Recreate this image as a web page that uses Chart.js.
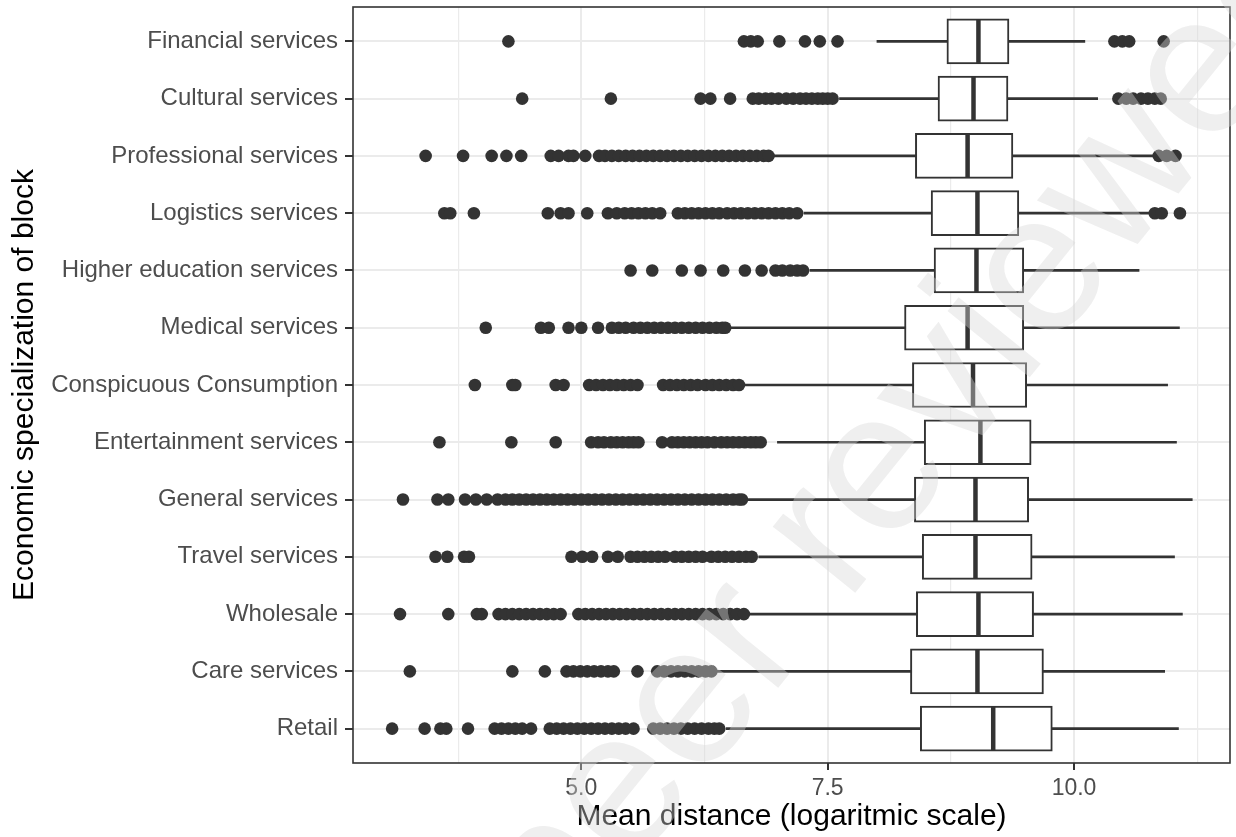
<!DOCTYPE html>
<html>
<head>
<meta charset="utf-8">
<title>Mean distance by economic specialization of block</title>
<script src="https://cdn.jsdelivr.net/npm/chart.js@4.4.1/dist/chart.umd.min.js"></script>
<style>
    html, body { margin: 0; padding: 0; background: #fff; }
    #wrap { width: 1236px; height: 837px; }
</style>
</head>
<body>
<div id="wrap"><canvas id="chart" width="1236" height="837"></canvas></div>
<script>
// Categories, top to bottom
const categories = [
    'Financial services',
    'Cultural services',
    'Professional services',
    'Logistics services',
    'Higher education services',
    'Medical services',
    'Conspicuous Consumption',
    'Entertainment services',
    'General services',
    'Travel services',
    'Wholesale',
    'Care services',
    'Retail'
];

// Box statistics
const whiskerLow  = [8.00, 7.62, 6.93, 7.26, 7.32, 6.52, 6.65, 6.99, 6.68, 6.80, 6.70, 6.38, 6.47];
const q1          = [8.71, 8.62, 8.39, 8.55, 8.58, 8.28, 8.36, 8.48, 8.38, 8.46, 8.40, 8.34, 8.44];
const median      = [9.03, 8.98, 8.92, 9.02, 9.01, 8.92, 8.975, 9.05, 9.00, 9.00, 9.03, 9.02, 9.18];
const q3          = [9.34, 9.33, 9.38, 9.44, 9.49, 9.49, 9.52, 9.565, 9.54, 9.575, 9.59, 9.69, 9.78];
const whiskerHigh = [10.11, 10.24, 10.80, 10.77, 10.66, 11.07, 10.95, 11.04, 11.20, 11.02, 11.10, 10.92, 11.06];

// Outlying points per category (same order as categories)
const outliers = [
    [4.26, 6.65, 6.72, 6.79, 7.01, 7.27, 7.42, 7.60, 10.41, 10.49, 10.56, 10.91],
    [4.40, 5.30, 6.21, 6.31, 6.51, 6.74, 6.80, 6.87, 6.93, 7.00, 7.08, 7.15, 7.22, 7.28, 7.34, 7.40, 7.45, 7.50, 7.55,
     10.45, 10.53, 10.60, 10.68, 10.75, 10.82, 10.88],
    [3.42, 3.80, 4.09, 4.24, 4.39, 4.69, 4.77, 4.87, 4.92, 5.04, 5.18, 5.24, 5.31, 5.38, 5.45, 5.52, 5.59, 5.66, 5.73,
     5.80, 5.87, 5.94, 6.01, 6.08, 6.15, 6.22, 6.29, 6.36, 6.43, 6.50, 6.57, 6.64, 6.71, 6.78, 6.85, 6.90,
     10.86, 10.94, 11.03],
    [3.61, 3.67, 3.91, 4.66, 4.79, 4.87, 5.06, 5.27, 5.36, 5.44, 5.51, 5.58, 5.65, 5.72, 5.80, 5.98, 6.05, 6.12, 6.19,
     6.26, 6.33, 6.40, 6.48, 6.55, 6.62, 6.69, 6.76, 6.83, 6.90, 6.97, 7.04, 7.11, 7.19,
     10.82, 10.89, 11.075],
    [5.50, 5.72, 6.02, 6.21, 6.44, 6.66, 6.83, 6.97, 7.04, 7.12, 7.19, 7.25],
    [4.03, 4.59, 4.67, 4.87, 5.00, 5.17, 5.31, 5.38, 5.45, 5.53, 5.60, 5.67, 5.74, 5.81, 5.88, 5.95, 6.02, 6.09,
     6.16, 6.23, 6.30, 6.37, 6.43, 6.46],
    [3.92, 4.30, 4.33, 4.74, 4.82, 5.08, 5.15, 5.22, 5.29, 5.36, 5.43, 5.50, 5.57, 5.83, 5.90, 5.97, 6.04, 6.11,
     6.18, 6.26, 6.33, 6.40, 6.47, 6.54, 6.60],
    [3.56, 4.29, 4.74, 5.10, 5.17, 5.23, 5.30, 5.36, 5.42, 5.48, 5.53, 5.58, 5.82, 5.92, 5.98, 6.04, 6.10, 6.16,
     6.22, 6.28, 6.35, 6.42, 6.48, 6.54, 6.60, 6.66, 6.72, 6.77, 6.82],
    [3.19, 3.54, 3.65, 3.82, 3.93, 4.04, 4.15, 4.23, 4.30, 4.37, 4.44, 4.51, 4.58, 4.65, 4.72, 4.79, 4.86, 4.93,
     5.00, 5.07, 5.14, 5.21, 5.28, 5.35, 5.42, 5.49, 5.56, 5.63, 5.70, 5.77, 5.84, 5.91, 5.98, 6.05, 6.12, 6.19,
     6.26, 6.33, 6.40, 6.47, 6.54, 6.60, 6.63],
    [3.52, 3.64, 3.81, 3.86, 4.90, 5.01, 5.11, 5.27, 5.37, 5.50, 5.57, 5.64, 5.71, 5.78, 5.85, 5.95, 6.02, 6.09,
     6.16, 6.23, 6.32, 6.39, 6.46, 6.53, 6.60, 6.67, 6.73],
    [3.16, 3.65, 3.94, 3.99, 4.16, 4.23, 4.30, 4.37, 4.44, 4.51, 4.58, 4.65, 4.72, 4.79, 4.97, 5.04, 5.11, 5.18,
     5.25, 5.32, 5.39, 5.46, 5.53, 5.60, 5.67, 5.74, 5.81, 5.88, 5.95, 6.02, 6.09, 6.16, 6.23, 6.30, 6.37, 6.44,
     6.51, 6.58, 6.65],
    [3.26, 4.30, 4.63, 4.85, 4.92, 4.99, 5.06, 5.13, 5.20, 5.27, 5.33, 5.57, 5.77, 5.84, 5.91, 5.98, 6.05, 6.12,
     6.19, 6.26, 6.32],
    [3.08, 3.41, 3.57, 3.63, 3.85, 4.12, 4.19, 4.26, 4.33, 4.40, 4.49, 4.68, 4.75, 4.82, 4.89, 4.96, 5.03, 5.10,
     5.17, 5.24, 5.31, 5.38, 5.45, 5.53, 5.73, 5.80, 5.87, 5.94, 6.01, 6.08, 6.15, 6.22, 6.29, 6.35, 6.40]
];

// Axis ticks
const xRange = [2.683, 11.583];
const xMajorTicks = [5.0, 7.5, 10.0];
const xTickLabels = ['5.0', '7.5', '10.0'];
const xMinorTicks = [3.75, 6.25, 8.75, 11.25];

const xTitle = 'Mean distance (logaritmic scale)';
const yTitle = 'Economic specialization of block';
const watermarkText = 'Preprint not peer reviewed';

const FONT = '"Liberation Sans", Arial, Helvetica, sans-serif';
const INK = '#333333';
const GRID = '#ebebeb';

const rows = categories.map((c, i) => i);

const panelBorder = {
    id: 'panelBorder',
    afterDatasetsDraw(chart) {
        const {ctx, chartArea: a} = chart;
        ctx.save();
        ctx.strokeStyle = INK;
        ctx.lineWidth = 1.6;
        ctx.strokeRect(a.left, a.top, a.right - a.left, a.bottom - a.top);
        ctx.restore();
    }
};

// faint diagonal watermark that sits over the figure
const watermark = {
    id: 'watermark',
    afterDraw(chart) {
        const ctx = chart.ctx;
        ctx.save();
        ctx.font = `200px ${FONT}`;
        ctx.fillStyle = 'rgba(215,215,215,0.4)';
        ctx.textBaseline = 'middle';
        const lead = ctx.measureText('Preprint not p').width;
        const part = ctx.measureText('eer reviewe').width;
        ctx.translate(912, 435);
        ctx.rotate(-51 * Math.PI / 180);
        ctx.fillText(watermarkText, -lead - part / 2, 0);
        ctx.restore();
    }
};

new Chart(document.getElementById('chart'), {
    type: 'bar',
    data: {
        datasets: [
            {
                label: 'whiskers',
                type: 'bar',
                data: rows.map(i => ({y: i, x: [whiskerLow[i], whiskerHigh[i]]})),
                backgroundColor: INK,
                borderWidth: 0,
                barThickness: 2,
                grouped: false,
                order: 4
            },
            {
                label: 'boxes',
                type: 'bar',
                data: rows.map(i => ({y: i, x: [q1[i], q3[i]]})),
                backgroundColor: '#ffffff',
                borderColor: INK,
                borderWidth: 2,
                borderSkipped: false,
                barThickness: 45,
                grouped: false,
                order: 3
            },
            {
                label: 'medians',
                type: 'scatter',
                data: rows.map(i => ({x: median[i], y: i})),
                pointStyle: 'line',
                pointRotation: 90,
                pointRadius: 22,
                pointBorderColor: INK,
                pointBorderWidth: 4.5,
                order: 2
            },
            {
                label: 'outliers',
                type: 'scatter',
                data: outliers.flatMap((vals, i) => vals.map(v => ({x: v, y: i}))),
                pointRadius: 6.3,
                pointBackgroundColor: INK,
                pointBorderColor: INK,
                pointBorderWidth: 0,
                order: 1
            }
        ]
    },
    options: {
        responsive: false,
        animation: false,
        indexAxis: 'y',
        events: [],
        layout: { autoPadding: false, padding: { left: 0, right: 6, top: 7, bottom: 0 } },
        plugins: {
            legend: { display: false },
            tooltip: { enabled: false }
        },
        scales: {
            x: {
                type: 'linear',
                position: 'bottom',
                min: xRange[0],
                max: xRange[1],
                afterBuildTicks: axis => {
                    axis.ticks = xMinorTicks.concat(xMajorTicks).sort((a, b) => a - b).map(v => ({value: v}));
                },
                afterFit: axis => {
                    axis.height = 74;
                    axis.paddingLeft = 0;
                    axis.paddingRight = 0;
                },
                ticks: {
                    autoSkip: false,
                    maxRotation: 0,
                    padding: 5,
                    color: '#4d4d4d',
                    font: { family: FONT, size: 23 },
                    callback: v => {
                        const k = xMajorTicks.indexOf(v);
                        return k >= 0 ? xTickLabels[k] : '';
                    }
                },
                grid: {
                    color: GRID,
                    lineWidth: c => xMajorTicks.includes(c.tick.value) ? 2 : 1.2,
                    tickLength: 7,
                    tickWidth: 2,
                    tickColor: c => xMajorTicks.includes(c.tick.value) ? INK : 'rgba(0,0,0,0)'
                },
                border: { display: false },
                title: {
                    display: true,
                    text: xTitle,
                    color: '#000',
                    font: { family: FONT, size: 30 },
                    padding: { top: 0, bottom: 2 }
                }
            },
            y: {
                type: 'linear',
                position: 'left',
                reverse: true,
                offset: false,
                min: -0.6,
                max: categories.length - 0.4,
                afterBuildTicks: axis => {
                    axis.ticks = rows.map(i => ({value: i}));
                },
                afterFit: axis => {
                    axis.width = 353;
                    axis.paddingTop = 0;
                    axis.paddingBottom = 0;
                },
                ticks: {
                    autoSkip: false,
                    padding: 7,
                    color: '#4d4d4d',
                    font: { family: FONT, size: 24 },
                    callback: v => categories[v]
                },
                grid: {
                    offset: false,
                    color: GRID,
                    lineWidth: 2,
                    tickLength: 8,
                    tickWidth: 2,
                    tickColor: INK
                },
                border: { display: false },
                title: {
                    display: true,
                    text: yTitle,
                    color: '#000',
                    font: { family: FONT, size: 30 },
                    padding: { top: 7 }
                }
            }
        }
    },
    plugins: [panelBorder, watermark]
});
</script>
</body>
</html>
